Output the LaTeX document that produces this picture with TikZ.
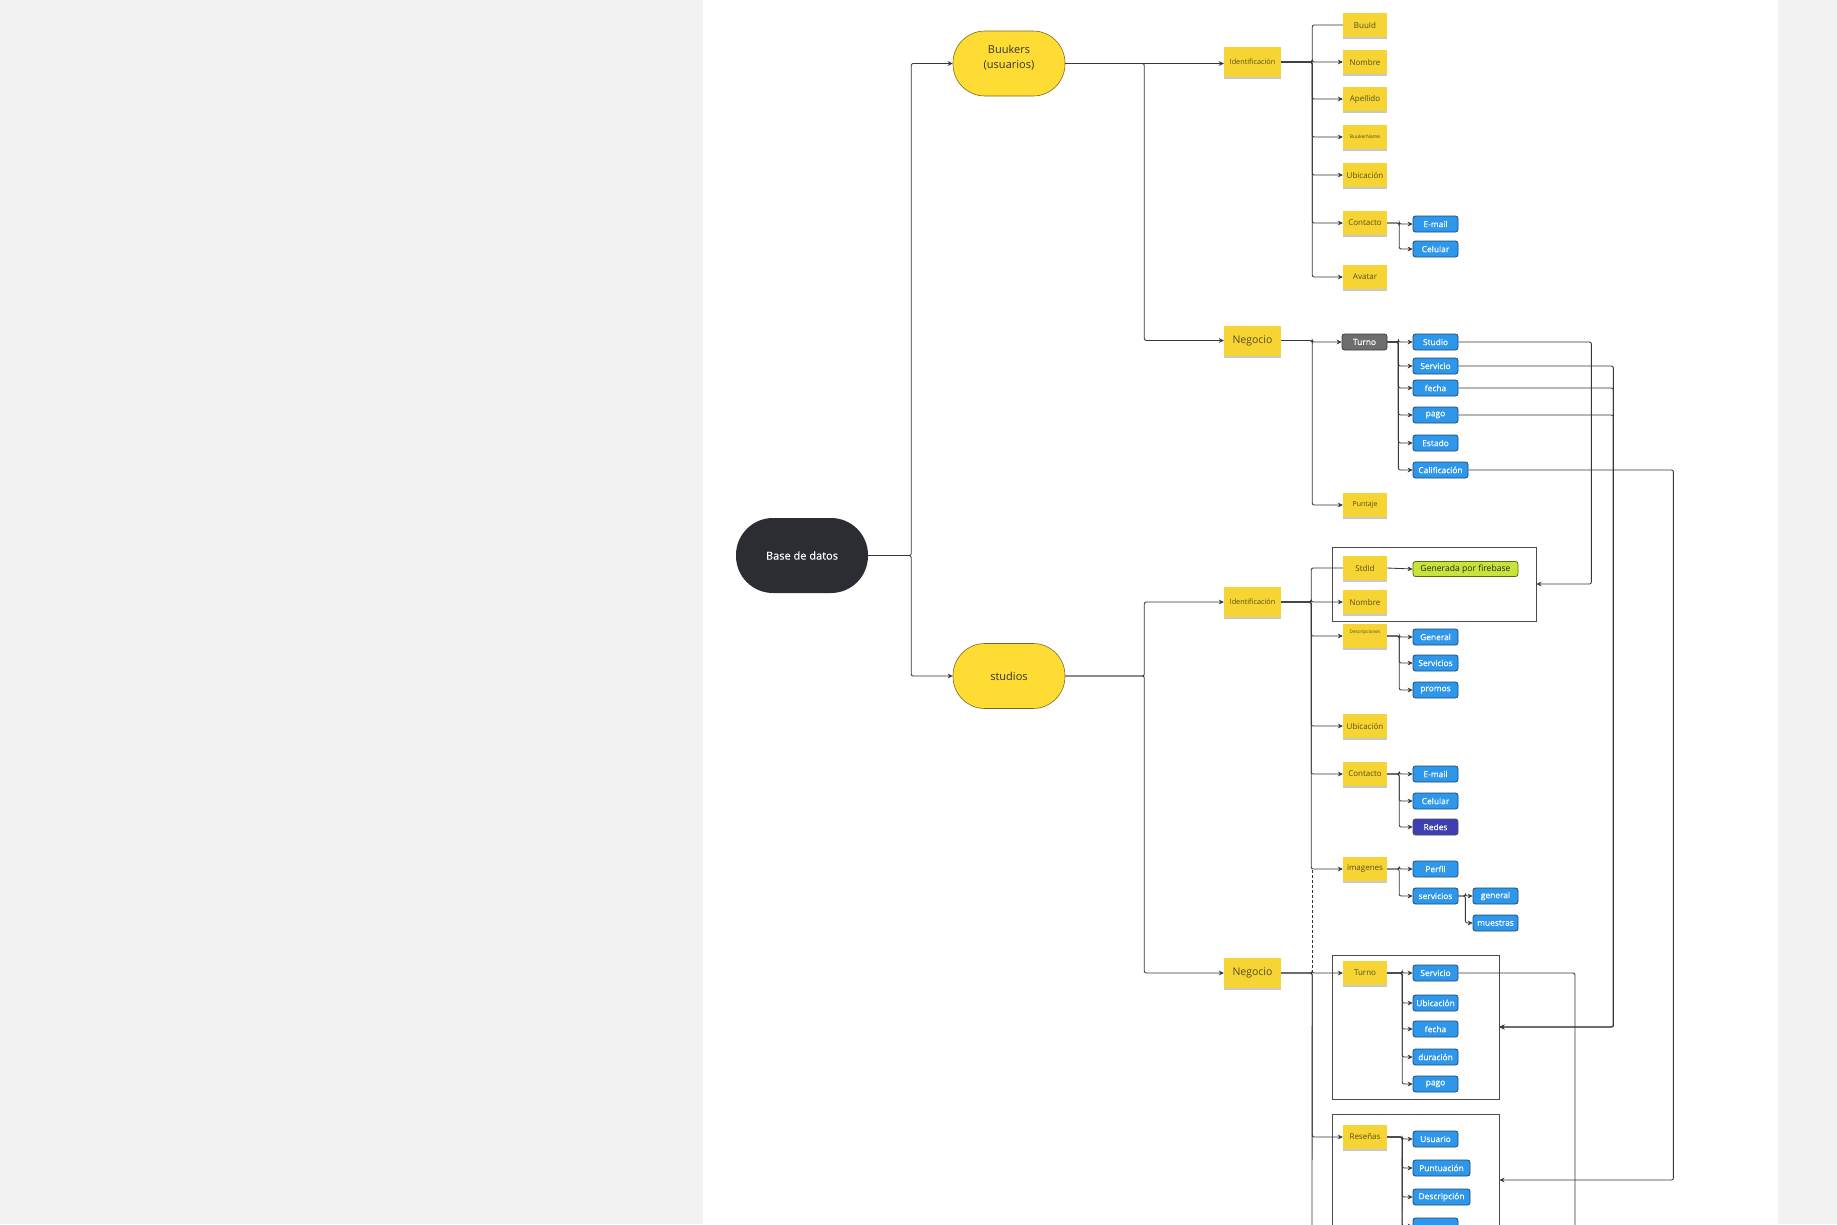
\documentclass[tikz,border=0pt]{standalone}
\usepackage{fontspec}
\setmainfont{Open Sans}
\newfontfamily\semib[FakeBold=0.35]{Open Sans}
\usetikzlibrary{arrows.meta,shadows}
\definecolor{bggray}{HTML}{F2F2F2}
\definecolor{stickyc}{HTML}{F6D433}
\definecolor{stickytxt}{HTML}{574E1E}
\definecolor{fblue}{HTML}{2F97EA}
\definecolor{fborder}{HTML}{1B4A76}
\definecolor{yell}{HTML}{FEDC33}
\definecolor{yellb}{HTML}{7A6A2A}
\definecolor{basec}{HTML}{2B2D32}
\definecolor{linec}{HTML}{383838}
\definecolor{grpc}{HTML}{4A4A4A}
\definecolor{turnoc}{HTML}{6E6E6E}
\definecolor{limec}{HTML}{C8E43A}
\definecolor{limeb}{HTML}{5B6B12}
\definecolor{redesc}{HTML}{3D3FB2}
\newcommand{\fs}[1]{\fontsize{#1}{#1}\selectfont}
\tikzset{
  sticky/.style={rectangle, fill=stickyc, minimum width=44pt, minimum height=24pt, inner sep=0pt,
    font=\fs{8}, text=stickytxt,
    drop shadow={shadow xshift=0pt, shadow yshift=-2pt, opacity=0.3, fill=black!70}},
  bigsticky/.style={sticky, minimum width=57pt, minimum height=30pt},
  field/.style={rectangle, rounded corners=2.5pt, fill=fblue, draw=fborder, line width=0.8pt,
    minimum width=45pt, minimum height=16pt, inner sep=1pt, text=white, font=\semib\fs{8.4}},
  stadium/.style={rectangle, rounded corners=32pt, fill=yell, draw=yellb, line width=0.6pt,
    minimum width=112pt, minimum height=65pt, inner sep=0pt, font=\fontsize{11}{15}\selectfont, text=black!80, align=center},
  grp/.style={rectangle, draw=grpc, line width=0.9pt, inner sep=0pt},
  conn/.style={draw=linec, line width=0.85pt, rounded corners=2pt, -{Stealth[length=5pt,width=4.8pt]}},
  plain/.style={draw=linec, line width=0.85pt, rounded corners=2pt},
}
\begin{document}
\begin{tikzpicture}[x=1pt,y=-1pt]
\useasboundingbox (0,0) rectangle (1837,1224);
\fill[bggray] (0,0) rectangle (1837,1224);
\fill[white] (703,0) rectangle (1778,1224);

% group boxes
\node[grp, minimum width=204pt, minimum height=74pt] (box1) at (1434,584) {};
\node[grp, minimum width=167pt, minimum height=144pt] (box2) at (1415.5,1027) {};
\node[grp, minimum width=167pt, minimum height=132pt] (box3) at (1415.5,1180) {};

% main nodes
\node[rectangle, rounded corners=37pt, fill=basec, minimum width=132pt, minimum height=75pt, text=white, font=\semib\fs{11}] (base) at (802,555.5) {Base de datos};
\node[stadium] (bk) at (1009,63.5) {Buukers\\(usuarios)\\[-2pt]\mbox{}};
\node[stadium] (st) at (1009,676) {studios};

% ---------- Buukers ----------
\node[bigsticky, font=\fs{7.3}] (idb) at (1252.5,62) {Identificación};
\node[bigsticky, font=\fs{10.5}] (negb) at (1252.5,340.5) {Negocio};
\node[sticky] (buuid) at (1365,25) {BuuId};
\node[sticky] (nomb) at (1365,62) {Nombre};
\node[sticky] (apeb) at (1365,99) {Apellido};
\node[sticky, font=\fs{4.9}] (bname) at (1365,137) {BuukerName};
\node[sticky] (ubib) at (1365,175) {Ubicación};
\node[sticky] (conb) at (1365,223) {Contacto};
\node[sticky] (avab) at (1365,277) {Avatar};
\node[field] (mailb) at (1435.5,224) {E-mail};
\node[field] (celb) at (1435.5,249) {Celular};
\node[field, fill=turnoc, draw=black!75] (turb) at (1364.5,342) {Turno};
\node[sticky, font=\fs{7}] (punb) at (1365,505) {Puntaje};
\node[field] (stdb) at (1435.5,342) {Studio};
\node[field] (serb) at (1435.5,366) {Servicio};
\node[field] (fecb) at (1435.5,388) {fecha};
\node[field] (pagb) at (1435.5,415) {pago};
\node[field] (estb) at (1435.5,443) {Estado};
\node[field, minimum width=55pt] (calb) at (1440.5,470) {Calificación};

% ---------- studios ----------
\node[bigsticky, font=\fs{7.3}] (ids) at (1252.5,602) {Identificación};
\node[bigsticky, font=\fs{10.5}] (negs) at (1252.5,973) {Negocio};
\node[sticky] (stid) at (1365,568) {StdId};
\node[sticky] (noms) at (1365,602) {Nombre};
\node[field, fill=limec, draw=limeb, text=black!85, minimum width=105pt, minimum height=15pt, font=\fs{8.6}] (gen) at (1465.5,569) {Generada por firebase};
\node[sticky] (desc) at (1365,636) {};
\node[font=\fs{4.7}, text=stickytxt, inner sep=0pt] (desct) at (1365,632) {Descripciones};
\node[field] (dgen) at (1435.5,637) {General};
\node[field] (dser) at (1435.5,663) {Servicios};
\node[field] (dpro) at (1435.5,690) {promos};
\node[sticky] (ubis) at (1365,726) {Ubicación};
\node[sticky] (cons) at (1365,774) {Contacto};
\node[field] (mails) at (1435.5,774) {E-mail};
\node[field] (cels) at (1435.5,801) {Celular};
\node[field, fill=redesc, draw=black!70] (reds) at (1435.5,827) {Redes};
\node[sticky] (imgs) at (1365,869) {imagenes};
\node[field] (perf) at (1435.5,869) {Perfil};
\node[field] (iser) at (1435.5,896) {servicios};
\node[field] (igen) at (1495.5,896) {general};
\node[field] (imue) at (1495.5,923) {muestras};
\node[sticky] (tur2) at (1365,973) {Turno};
\node[field] (t2ser) at (1435.5,973) {Servicio};
\node[field] (t2ubi) at (1435.5,1003) {Ubicación};
\node[field] (t2fec) at (1435.5,1029) {fecha};
\node[field] (t2dur) at (1435.5,1057) {duración};
\node[field] (t2pag) at (1435.5,1084) {pago};
\node[sticky] (res) at (1365,1137) {Reseñas};
\node[field] (rusu) at (1435.5,1139) {Usuario};
\node[field, minimum width=57pt] (rpun) at (1441.5,1168) {Puntuación};
\node[field, minimum width=57pt] (rdes) at (1441.5,1197) {Descripción};
\node[field] (rfth) at (1435.5,1226) {};

% ---------- connectors: root ----------
\draw[conn] (base.east) -- ++(43,0) |- (bk.west);
\draw[conn] (base.east) -- ++(43,0) |- (st.west);
\draw[conn] (bk.east) -- (idb.west |- bk.east);
\draw[conn] (bk.east) -- ++(79,0) |- (negb.west);
\draw[conn] (st.east) -- ++(79,0) |- (ids.west);
\draw[conn] (st.east) -- ++(79,0) |- (negs.west);

% Buukers identificación
\draw[plain] (idb.east) -- ++(31,0) |- (buuid.west);
\foreach \c in {nomb,apeb,bname,ubib,conb,avab}
  \draw[conn] (idb.east) -- ++(31,0) |- (\c.west);
\draw[conn] (conb.east) -- ++(12,0) |- (mailb.west);
\draw[conn] (conb.east) -- ++(12,0) |- (celb.west);
% Buukers negocio
\draw[conn] (negb.east) -- ++(31,0) |- (turb.west);
\draw[conn] (negb.east) -- ++(31,0) |- (punb.west);
\foreach \c in {stdb,serb,fecb,pagb,estb,calb}
  \draw[conn] (turb.east) -- ++(11,0) |- (\c.west);

% cross links
\draw[conn] (stdb.east) -- ++(133,0) |- (box1.east);
\draw[conn] (serb.east) -- ++(155,0) |- (box2.east);
\draw[conn] (fecb.east) -- ++(155,0) |- (box2.east);
\draw[conn] (pagb.east) -- ++(155,0) |- (box2.east);
\draw[conn] (calb.east) -- ++(205,0) |- (box3.east);
\coordinate (endS) at (1575,1240);
\draw[plain] (t2ser.east) -| (endS);

% studios identificación
\draw[plain] (ids.east) -- ++(30,0) |- (stid.west);
\foreach \c in {noms,desc,ubis,cons,imgs}
  \draw[conn] (ids.east) -- ++(30,0) |- (\c.west);
\draw[conn] (stid.east) -- (gen.west);
\foreach \c in {dgen,dser,dpro}
  \draw[conn] (desc.east) -- ++(12,0) |- (\c.west);
\foreach \c in {mails,cels,reds}
  \draw[conn] (cons.east) -- ++(12,0) |- (\c.west);
\foreach \c in {perf,iser}
  \draw[conn] (imgs.east) -- ++(12,0) |- (\c.west);
\foreach \c in {igen,imue}
  \draw[conn] (iser.east) -- ++(7,0) |- (\c.west);
\coordinate (dA) at (1312,870);
\coordinate (dB) at (1312,973);
\draw[plain, dashed, dash pattern=on 3pt off 2pt] (dA) -- (dB);

% studios negocio
\coordinate (endN) at (1312,1240);
\draw[plain] (negs.east) -- ++(31,0) -- (endN);
\draw[conn] (negs.east) -- ++(31,0) |- (tur2.west);
\draw[conn] (negs.east) -- ++(31,0) |- (res.west);
\foreach \c in {t2ser,t2ubi,t2fec,t2dur,t2pag}
  \draw[conn] (tur2.east) -- ++(15,0) |- (\c.west);
\coordinate (endR) at (1402,1240);
\draw[plain] (res.east) -- ++(15,0) -- (endR);
\foreach \c in {rusu,rpun,rdes,rfth}
  \draw[conn] (res.east) -- ++(15,0) |- (\c.west);
\end{tikzpicture}
\end{document}
